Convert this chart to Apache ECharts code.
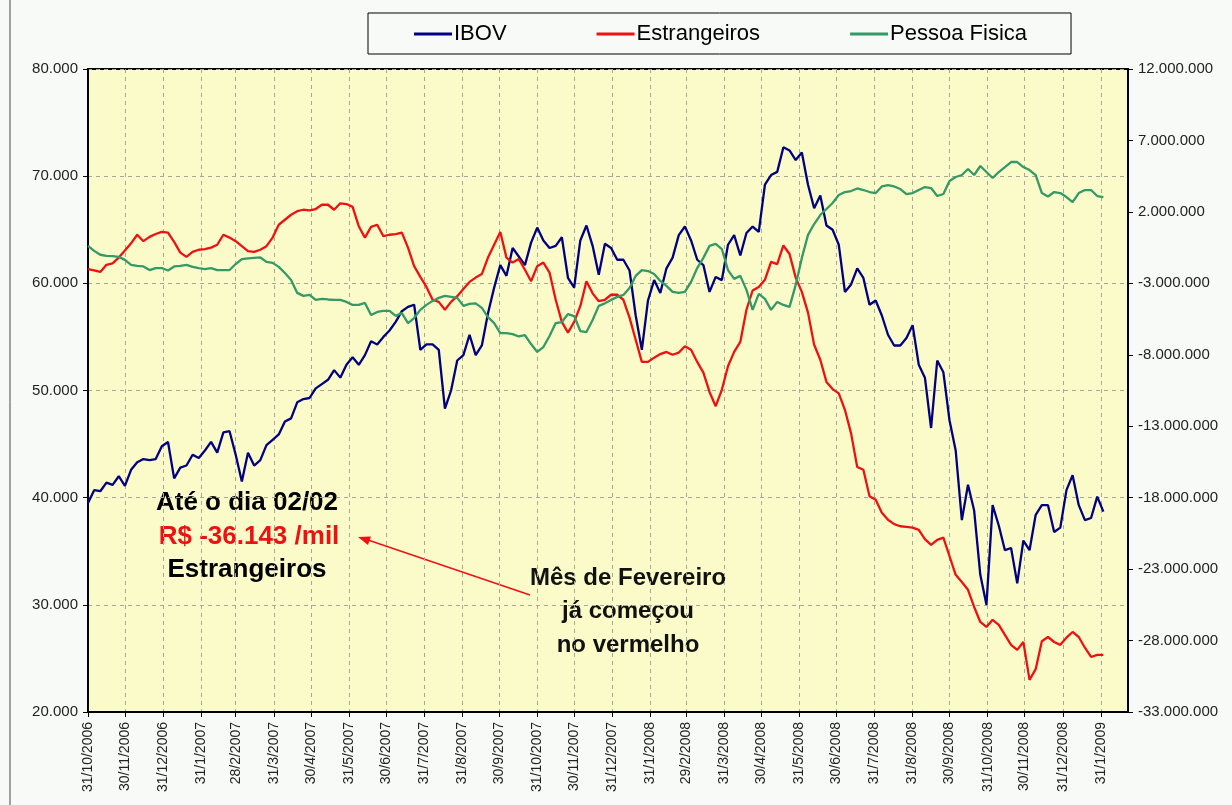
<!DOCTYPE html>
<html><head><meta charset="utf-8">
<script src="https://cdn.jsdelivr.net/npm/echarts@6/dist/echarts.min.js"></script>
<style>html,body{margin:0;padding:0;background:#f8faf8;} #c{width:1232px;height:805px;}</style>
</head><body><div id="c"></div>
<script>
// Month-end tick labels of the date axis
const monthEndLabels = ['31/10/2006','30/11/2006','31/12/2006','31/1/2007','28/2/2007','31/3/2007','30/4/2007','31/5/2007','30/6/2007','31/7/2007','31/8/2007','30/9/2007','31/10/2007','30/11/2007','31/12/2007','31/1/2008','29/2/2008','31/3/2008','30/4/2008','31/5/2008','30/6/2008','31/7/2008','31/8/2008','30/9/2008','31/10/2008','30/11/2008','31/12/2008','31/1/2009'];
const axisEndDate = '22/2/2009';
// Values read every 5 calendar days, starting 31/10/2006
const sampleStart = '31/10/2006';
const sampleStepDays = 5;
const seriesNames = ['IBOV', 'Estrangeiros', 'Pessoa Fisica'];
const ibov = [
39500,40700,40600,41400,41200,42000,41100,42600,43300,43600,
43500,43600,44800,45200,41800,42800,43000,44000,43700,44400,
45200,44200,46100,46200,44000,41500,44200,43000,43500,44900,
45400,45900,47100,47400,48900,49200,49300,50200,50600,51000,
51900,51200,52400,53100,52400,53300,54600,54300,55000,55600,
56400,57400,57800,58000,53800,54300,54300,53800,48300,50000,
52800,53300,55200,53300,54200,57200,59600,61700,60700,63300,
62500,61700,63800,65200,64000,63300,63500,64300,60500,59600,
64000,65400,63500,60800,63700,63300,62200,62200,61200,57000,
53800,58400,60300,59100,61400,62400,64500,65300,64000,62200,
61700,59200,60600,60300,63600,64500,62600,64700,65300,64800,
69200,70100,70400,72700,72400,71500,72200,69200,67000,68200,
65400,65000,63600,59200,59900,61400,60500,58000,58400,57000,
55200,54200,54200,54900,56100,52400,51200,46500,52800,51700,
47200,44400,37900,41200,38800,32800,30000,39300,37400,35100,
35300,32000,36000,35100,38400,39300,39300,36800,37200,40700,
42100,39300,37900,38100,40100,38700];
// Net flows, in millions
const estrangeirosMi = [
-2.0,-2.1,-2.2,-1.7,-1.6,-1.2,-0.7,-0.2,0.4,-0.05,
0.25,0.45,0.6,0.55,-0.1,-0.85,-1.15,-0.8,-0.65,-0.6,
-0.5,-0.3,0.4,0.2,-0.05,-0.4,-0.75,-0.8,-0.65,-0.4,
0.2,1.1,1.45,1.8,2.05,2.15,2.1,2.2,2.5,2.5,
2.15,2.6,2.55,2.35,1.0,0.2,0.95,1.1,0.3,0.4,
0.45,0.55,-0.5,-1.8,-2.55,-3.25,-4.15,-4.3,-4.85,-4.3,
-3.9,-3.4,-2.9,-2.6,-2.35,-1.2,-0.3,0.6,-1.2,-1.55,
-1.3,-2.05,-2.85,-1.8,-1.55,-2.25,-4.15,-5.7,-6.45,-5.7,
-4.6,-2.85,-3.7,-4.25,-4.15,-3.8,-3.8,-4.15,-5.4,-6.95,
-8.5,-8.5,-8.2,-7.95,-7.8,-8.0,-7.85,-7.4,-7.65,-8.5,
-9.25,-10.6,-11.6,-10.45,-8.8,-7.8,-7.1,-4.85,-3.5,-3.25,
-2.75,-1.5,-1.65,-0.35,-0.95,-2.6,-3.6,-5.05,-7.3,-8.35,
-9.9,-10.4,-10.7,-11.85,-13.5,-15.85,-16.05,-17.9,-18.15,-19.05,
-19.55,-19.85,-20.0,-20.05,-20.1,-20.25,-20.9,-21.3,-20.95,-20.8,
-22.1,-23.4,-23.9,-24.45,-25.65,-26.7,-27.05,-26.55,-26.9,-27.6,
-28.3,-28.65,-28.1,-30.75,-30.0,-28.05,-27.75,-28.1,-28.3,-27.8,
-27.4,-27.75,-28.5,-29.15,-29.0,-29.0];
const pessoaFisicaMi = [
-0.38,-0.73,-1.0,-1.08,-1.1,-1.15,-1.36,-1.71,-1.78,-1.82,
-2.07,-1.93,-1.93,-2.1,-1.82,-1.78,-1.71,-1.85,-1.93,-2.0,
-1.93,-2.07,-2.07,-2.07,-1.65,-1.3,-1.26,-1.22,-1.19,-1.5,
-1.57,-1.85,-2.28,-2.76,-3.67,-3.88,-3.81,-4.16,-4.09,-4.13,
-4.16,-4.16,-4.3,-4.51,-4.51,-4.37,-5.22,-5.0,-4.93,-4.93,
-5.28,-5.08,-5.78,-5.43,-4.86,-4.51,-4.23,-4.02,-3.88,-3.95,
-4.02,-4.58,-4.44,-4.4,-4.72,-5.36,-5.78,-6.48,-6.48,-6.55,
-6.72,-6.62,-7.25,-7.8,-7.46,-6.69,-5.78,-5.71,-5.15,-5.29,
-6.34,-6.41,-5.57,-4.58,-4.4,-4.16,-3.95,-3.81,-3.32,-2.48,
-2.07,-2.14,-2.35,-2.83,-3.18,-3.6,-3.67,-3.6,-2.9,-1.93,
-1.22,-0.38,-0.24,-0.6,-2.07,-2.69,-2.48,-3.46,-4.86,-3.74,
-4.09,-4.86,-4.3,-4.51,-4.65,-3.11,-1.22,0.39,1.15,1.78,
2.2,2.62,3.18,3.39,3.46,3.64,3.53,3.39,3.32,3.78,
3.88,3.78,3.6,3.25,3.32,3.53,3.74,3.67,3.11,3.25,
4.16,4.44,4.58,5.0,4.58,5.21,4.79,4.37,4.79,5.14,
5.49,5.49,5.14,4.93,4.58,3.32,3.08,3.39,3.32,3.04,
2.69,3.32,3.53,3.53,3.11,3.04];
const noteLeft = ['Até o dia 02/02', 'R$ -36.143 /mil', 'Estrangeiros'];
const noteRight = ['Mês de Fevereiro', 'já começou', 'no vermelho'];

function parseDMY(s) { const p = s.split('/').map(Number); return new Date(p[2], p[1] - 1, p[0]).getTime(); }
function fmtThousands(v) {
  const neg = v < 0; const s = String(Math.round(Math.abs(v))).replace(/\B(?=(\d{3})+(?!\d))/g, '.');
  return (neg ? '-' : '') + s;
}
const tickValues = monthEndLabels.map(parseDMY);
const labelMap = {}; monthEndLabels.forEach((l, i) => { labelMap[tickValues[i]] = l; });
const startParts = sampleStart.split('/').map(Number);
function sampleTime(i) { return new Date(startParts[2], startParts[1] - 1, startParts[0] + i * sampleStepDays).getTime(); }
const toPairs = arr => arr.map((v, i) => [sampleTime(i), v]);

const FONT = 'Liberation Sans, Arial, sans-serif';
const chart = echarts.init(document.getElementById('c'), null, { renderer: 'canvas' });
chart.setOption({
  animation: false,
  backgroundColor: '#f8faf8',
  textStyle: { fontFamily: FONT },
  legend: {
    data: seriesNames,
    left: 368, top: 13,
    padding: [10, 44, 9, 46],
    icon: 'rect',
    itemGap: 90, itemWidth: 38, itemHeight: 3,
    borderColor: '#000', borderWidth: 1, backgroundColor: '#f8faf8',
    textStyle: { fontSize: 22, color: '#000', fontFamily: FONT, padding: [0, 0, 0, -3] }
  },
  grid: { left: 88, right: 104, top: 69, bottom: 93, show: true, backgroundColor: '#fbfbca', borderColor: '#000', borderWidth: 2 },
  xAxis: {
    type: 'value',
    min: parseDMY(sampleStart), max: parseDMY(axisEndDate),
    axisLine: { onZero: false, lineStyle: { color: '#000', width: 2 } },
    axisTick: { show: true, length: 5, lineStyle: { color: '#000', width: 1 }, customValues: tickValues },
    axisLabel: { customValues: tickValues, rotate: 90, fontSize: 14, color: '#222', margin: 10, fontFamily: FONT,
      formatter: v => labelMap[v] || '' },
    splitLine: { show: true, lineStyle: { color: '#a8a89a', type: [4, 4], width: 1 } }
  },
  yAxis: [{
    type: 'value', position: 'left', min: 20000, max: 80000, interval: 10000,
    axisLine: { show: true, onZero: false, lineStyle: { color: '#000', width: 2 } },
    axisTick: { show: true, length: 5, lineStyle: { color: '#000' } },
    axisLabel: { fontSize: 15, color: '#222', margin: 10, fontFamily: FONT, formatter: v => fmtThousands(v) },
    splitLine: { show: true, lineStyle: { color: '#a8a89a', type: [4, 4], width: 1 } }
  }, {
    type: 'value', position: 'right', min: -33, max: 12, interval: 5,
    axisLine: { show: true, onZero: false, lineStyle: { color: '#000', width: 2 } },
    axisTick: { show: true, length: 5, lineStyle: { color: '#000' } },
    axisLabel: { fontSize: 15, color: '#222', margin: 10, fontFamily: FONT, formatter: v => fmtThousands(v * 1e6) },
    splitLine: { show: false }
  }],
  series: [
    { name: seriesNames[0], type: 'line', yAxisIndex: 0, data: toPairs(ibov), symbol: 'none', lineStyle: { color: '#000080', width: 2.3 }, itemStyle: { color: '#000080' } },
    { name: seriesNames[1], type: 'line', yAxisIndex: 1, data: toPairs(estrangeirosMi), symbol: 'none', lineStyle: { color: '#ee1111', width: 2.3 }, itemStyle: { color: '#ee1111' } },
    { name: seriesNames[2], type: 'line', yAxisIndex: 1, data: toPairs(pessoaFisicaMi), symbol: 'none', lineStyle: { color: '#339966', width: 2.3 }, itemStyle: { color: '#339966' } }
  ],
  graphic: [
    { type: 'line', shape: { x1: 10, y1: 0, x2: 10, y2: 805 }, style: { stroke: '#444', lineWidth: 1 } },
    { type: 'text', x: 247, y: 503, style: { text: noteLeft[0], font: 'bold 26px ' + FONT, fill: '#000', textAlign: 'center', textVerticalAlign: 'middle' } },
    { type: 'text', x: 249, y: 537, style: { text: noteLeft[1], font: 'bold 26px ' + FONT, fill: '#ee1111', textAlign: 'center', textVerticalAlign: 'middle' } },
    { type: 'text', x: 247, y: 570, style: { text: noteLeft[2], font: 'bold 26px ' + FONT, fill: '#000', textAlign: 'center', textVerticalAlign: 'middle' } },
    { type: 'text', x: 628, y: 578, style: { text: noteRight[0], font: 'bold 24px ' + FONT, fill: '#111', textAlign: 'center', textVerticalAlign: 'middle' } },
    { type: 'text', x: 628, y: 611, style: { text: noteRight[1], font: 'bold 24px ' + FONT, fill: '#111', textAlign: 'center', textVerticalAlign: 'middle' } },
    { type: 'text', x: 628, y: 645, style: { text: noteRight[2], font: 'bold 24px ' + FONT, fill: '#111', textAlign: 'center', textVerticalAlign: 'middle' } },
    { type: 'line', shape: { x1: 530, y1: 595, x2: 368, y2: 540 }, style: { stroke: '#ee1111', lineWidth: 1.5 } },
    { type: 'polygon', shape: { points: [[358, 537], [371, 536.5], [368, 545]] }, style: { fill: '#ee1111' } }
  ]
});
</script></body></html>
